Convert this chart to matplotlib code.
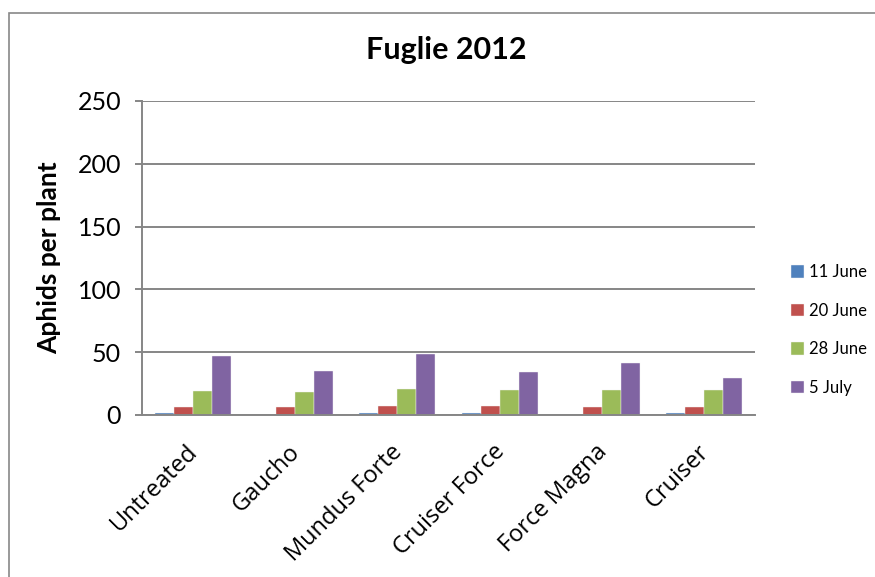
import matplotlib.pyplot as plt
import matplotlib.transforms as mtransforms
import numpy as np
from matplotlib.patches import Rectangle

# data
treatments = ['Untreated', 'Gaucho', 'Mundus Forte', 'Cruiser Force', 'Force Magna', 'Cruiser']
dates = ['11 June', '20 June', '28 June', '5 July']
june_11 = [1.6, 0.0, 1.6, 1.6, 0.0, 1.6]
june_20 = [6.2, 6.2, 7.2, 7.5, 6.3, 6.3]
june_28 = [19.3, 18.2, 20.3, 19.5, 19.5, 19.5]
july_5 = [47.0, 34.8, 48.2, 34.0, 41.2, 29.2]
colors = ['#4F81BD', '#C0504D', '#9BBB59', '#8064A2']

plt.rcParams['font.family'] = ['Lato', 'DejaVu Sans']

fig = plt.figure(figsize=(8.75, 5.77), dpi=100)
ax = fig.add_axes([0.1623, 0.2808, 0.7006, 0.5442])

# chart border (cropped on the right and bottom)
fig.patches.append(Rectangle((9 / 875, -0.1), 1.2, 1.1 - 13 / 577,
                             transform=fig.transFigure, fill=False,
                             edgecolor='#888888', linewidth=1.2))

x = np.arange(len(treatments))
width = 0.186
series = [june_11, june_20, june_28, july_5]
for i, (vals, lab) in enumerate(zip(series, dates)):
    ax.bar(x + (i - 1.5) * width, vals, width, color=colors[i], label=lab,
           edgecolor='#f4f4f4', linewidth=0.3)

ax.set_xlim(-0.5, len(treatments) - 0.5)
ax.set_ylim(0, 250)
ax.set_yticks([0, 50, 100, 150, 200, 250])
ax.yaxis.grid(True, color='#868686', linewidth=1.4)
ax.set_axisbelow(True)

for s in ['top', 'right']:
    ax.spines[s].set_visible(False)
for s in ['left', 'bottom']:
    ax.spines[s].set_color('#868686')
    ax.spines[s].set_linewidth(1.4)

ax.tick_params(axis='y', length=5, width=1.4, color='#868686', pad=10, labelsize=18)
ax.tick_params(axis='x', length=0, pad=18, labelsize=17)
ax.set_xticks(x)
ax.set_xticklabels(treatments, rotation=45, ha='right', rotation_mode='anchor',
                   family=['Open Sans', 'Lato'])
# nudge labels a little to the left
shift = mtransforms.ScaledTranslation(-7 / 100, 0, fig.dpi_scale_trans)
for lbl in ax.get_xticklabels():
    lbl.set_transform(lbl.get_transform() + shift)

ax.set_ylabel('Aphids per plant', fontsize=19, fontweight='bold', labelpad=12)
fig.text(0.51, 0.913, 'Fuglie 2012', ha='center', va='center', fontsize=22,
         fontweight='bold')

fig.legend(loc='center left', bbox_to_anchor=(0.887, 0.428), frameon=False,
           fontsize=12, handlelength=0.75, handleheight=0.75, handletextpad=0.3,
           labelspacing=1.35)

fig.savefig('out.png', dpi=100)
